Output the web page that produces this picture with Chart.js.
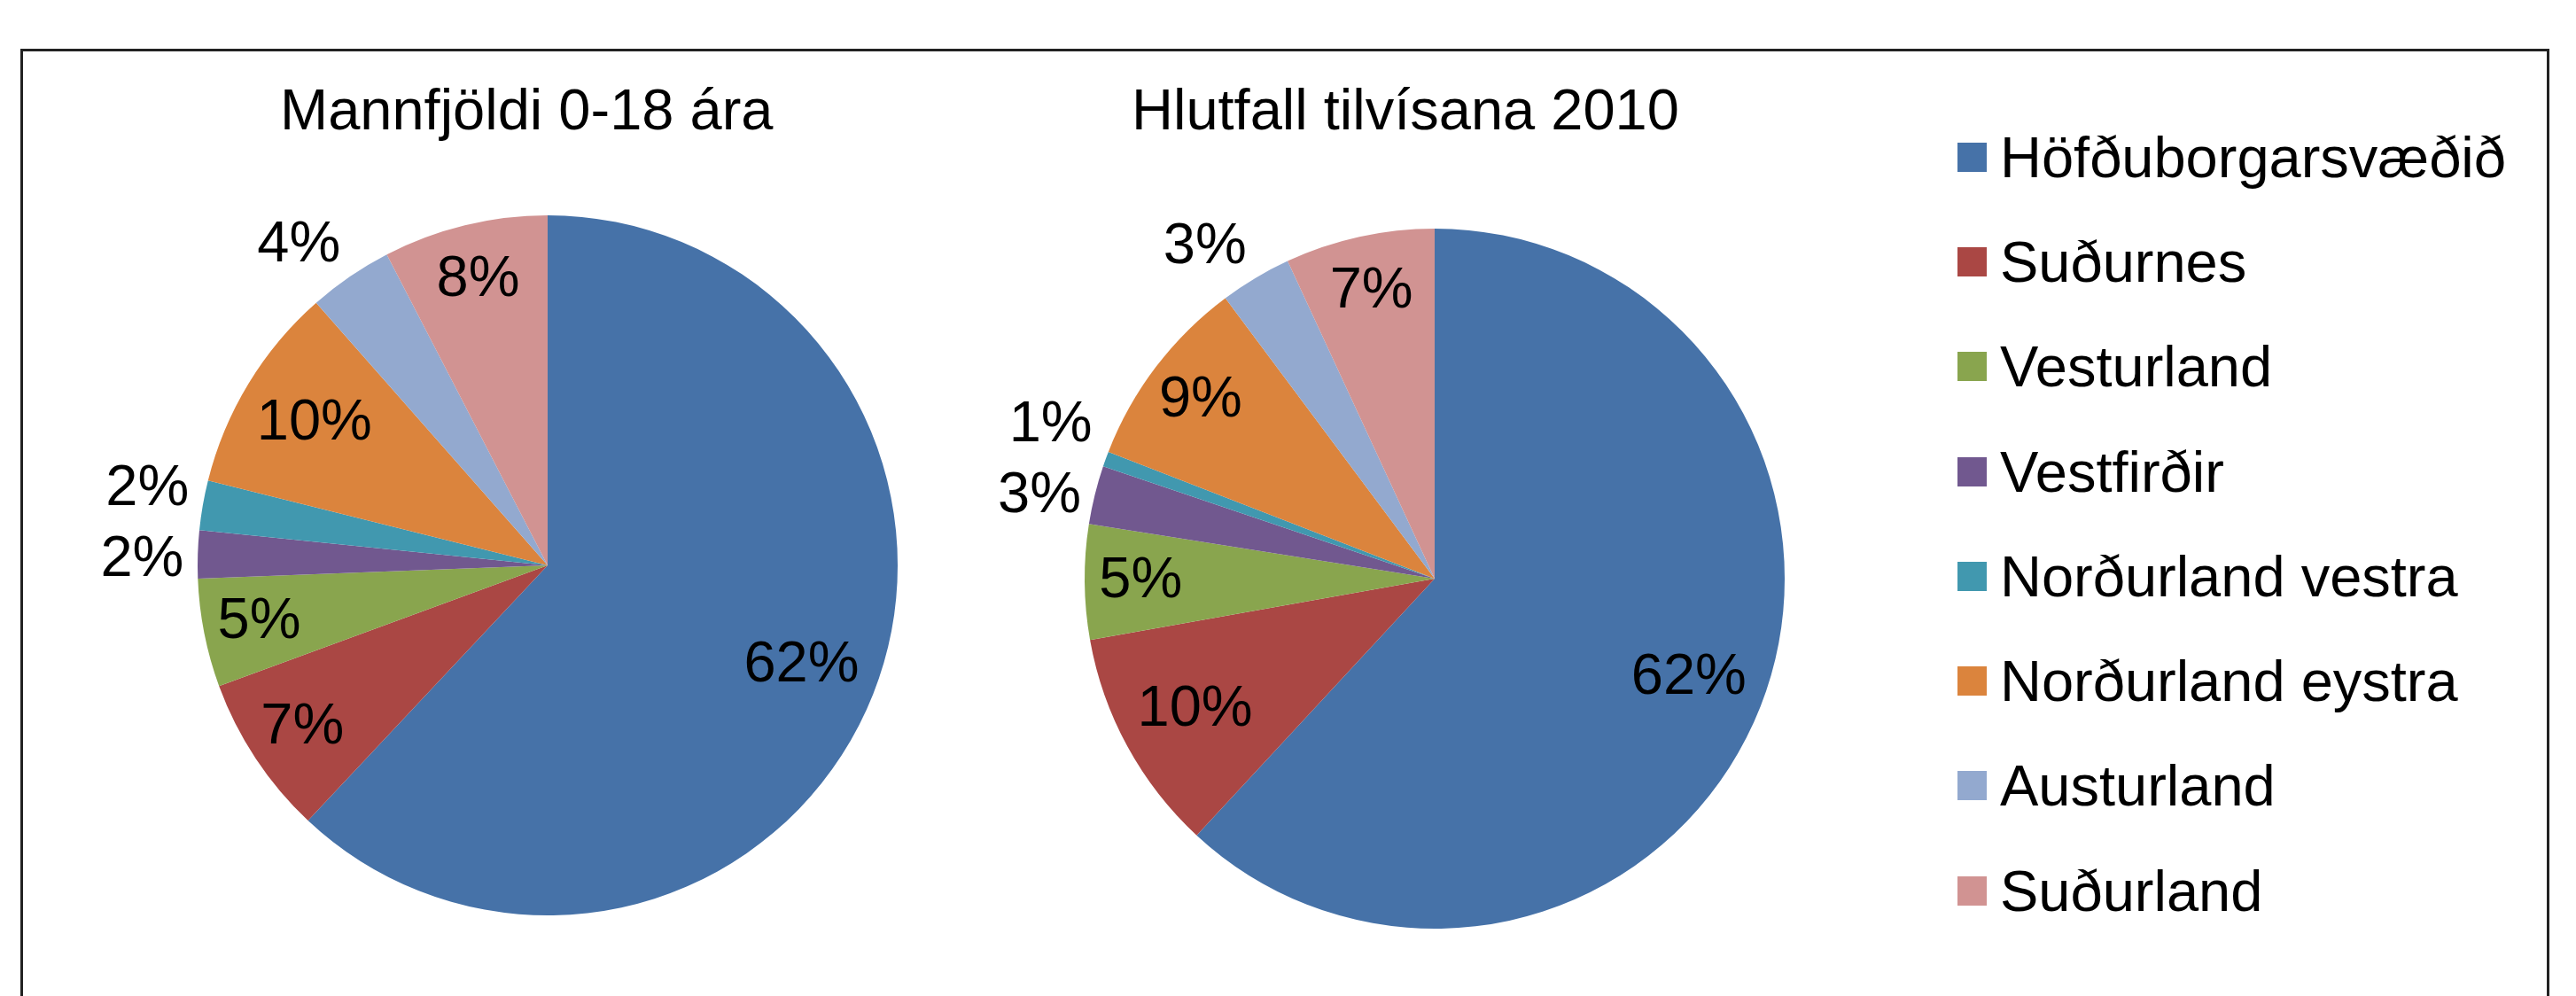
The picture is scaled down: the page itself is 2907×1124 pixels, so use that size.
<!DOCTYPE html>
<html>
<head>
<meta charset="utf-8">
<script src="https://cdn.jsdelivr.net/npm/chart.js@4.4.1/dist/chart.umd.min.js"></script>
<style>
  html, body { margin: 0; padding: 0; background: #fff; overflow: hidden; }
  #stage { position: relative; width: 2907px; height: 1124px; }
  #frame { position: absolute; left: 23px; top: 55px; width: 2854px; height: 1200px;
           border: 3px solid #222; box-sizing: border-box; }
  canvas { position: absolute; left: 0; top: 0; }
  #legend { position: absolute; left: 2209px; top: 118px; margin: 0; padding: 0; list-style: none;
            font-family: 'Liberation Sans', Arial, sans-serif; font-size: 65px; color: #000; }
  #legend li { display: flex; align-items: center; height: 118.3px; }
  #legend .swatch { width: 33px; height: 33px; margin-right: 15px; flex: none; }
  #legend .txt { line-height: 65px; white-space: nowrap; }
</style>
</head>
<body>
<div id="stage">
  <div id="frame"></div>
  <canvas id="pieA" width="2907" height="1124"></canvas>
  <canvas id="pieB" width="2907" height="1124"></canvas>
  <ul id="legend"></ul>
</div>
<script>
// Regions (legend order) and slice colours
const regions = ['Höfðuborgarsvæðið', 'Suðurnes', 'Vesturland', 'Vestfirðir',
                 'Norðurland vestra', 'Norðurland eystra', 'Austurland', 'Suðurland'];
const colors = ['#4672A8', '#AA4744', '#89A54E', '#71588F', '#4198AF', '#DB843D', '#93A9CF', '#D19392'];

// Share of population aged 0-18 (%)
const population = [62.0, 7.4, 5.0, 2.2, 2.3, 9.6, 3.9, 7.6];
// Share of referrals 2010 (%)
const referrals = [61.9, 10.3, 5.3, 2.7, 0.7, 8.9, 3.3, 6.9];

const titles = ['Mannfjöldi 0-18 ára', 'Hlutfall tilvísana 2010'];

Chart.defaults.font.family = "'Liberation Sans', Arial, sans-serif";
Chart.defaults.color = '#000';

const clamp1 = v => Math.max(-1, Math.min(1, v));

// percentage labels: inside the bigger slices, just outside the small ones
const sliceLabels = {
    id: 'sliceLabels',
    afterDatasetsDraw(chart, args, opts) {
        const ctx = chart.ctx;
        const meta = chart.getDatasetMeta(0);
        const values = chart.data.datasets[0].data;
        const total = values.reduce((a, b) => a + b, 0);

        ctx.save();
        ctx.font = opts.size + 'px ' + Chart.defaults.font.family;
        ctx.fillStyle = '#000';
        ctx.textAlign = 'center';
        ctx.textBaseline = 'middle';

        const placed = meta.data.map((arc, i) => {
            const p = arc.getProps(['x', 'y', 'startAngle', 'endAngle', 'outerRadius'], true);
            const mid = (p.startAngle + p.endAngle) / 2;
            const cos = Math.cos(mid), sin = Math.sin(mid);
            const share = values[i] / total * 100;
            const text = Math.round(share) + '%';
            if (share >= opts.insideMin) {
                const k = share >= 9 ? opts.insideWide : opts.inside;
                return {text, outside: false, x: p.x + cos * p.outerRadius * k, y: p.y + sin * p.outerRadius * k};
            }
            // outside: label box sits against the rim, corner toward the slice
            const hw = ctx.measureText(text).width / 2 + 4;
            const hh = opts.size * 0.38;
            const r = p.outerRadius * opts.outside;
            return {
                text, outside: true,
                x: p.x + cos * r + hw * clamp1(cos / 0.5),
                y: p.y + sin * r + hh * clamp1(sin / 0.5)
            };
        });

        // move neighbouring outside labels apart so they don't overlap
        for (let i = 1; i < placed.length; i++) {
            const a = placed[i - 1], b = placed[i];
            if (a.outside && b.outside && Math.abs(a.y - b.y) < opts.minGap &&
                Math.abs(a.x - b.x) < opts.size * 2) {
                const m = (a.y + b.y) / 2;
                const sign = a.y < b.y ? -1 : 1;
                a.y = m + sign * opts.minGap / 2;
                b.y = m - sign * opts.minGap / 2;
            }
        }

        placed.forEach(l => ctx.fillText(l.text, l.x, l.y));
        ctx.restore();
    }
};

// legend built as html from the chart's own legend items
const htmlLegend = {
    id: 'htmlLegend',
    afterUpdate(chart) {
        const list = document.getElementById('legend');
        list.innerHTML = '';
        const items = chart.options.plugins.legend.labels.generateLabels(chart);
        items.forEach(item => {
            const li = document.createElement('li');
            const box = document.createElement('span');
            box.className = 'swatch';
            box.style.background = item.fillStyle;
            const txt = document.createElement('span');
            txt.className = 'txt';
            txt.textContent = item.text;
            li.append(box, txt);
            list.appendChild(li);
        });
    }
};

function pieConfig(title, values, padding, titlePadding, extraPlugins) {
    return {
        type: 'pie',
        data: {
            labels: regions,
            datasets: [{
                data: values,
                backgroundColor: colors,
                borderWidth: 0,
                hoverOffset: 0,
                radius: 395
            }]
        },
        options: {
            responsive: false,
            animation: false,
            events: [],
            layout: { padding: padding },
            plugins: {
                legend: { display: false },
                tooltip: { enabled: false },
                title: {
                    display: true,
                    text: title,
                    align: 'start',
                    color: '#000',
                    font: { size: 65, weight: 'normal' },
                    padding: titlePadding
                },
                sliceLabels: { size: 65, inside: 0.84, insideWide: 0.78, outside: 1.03, insideMin: 4.5, minGap: 80 }
            }
        },
        plugins: [sliceLabels].concat(extraPlugins || [])
    };
}

new Chart(document.getElementById('pieA'),
    pieConfig(titles[0], population,
        { left: 316, right: 1987, top: 0, bottom: 15.5 },
        { top: 89.5, bottom: 0 }));

new Chart(document.getElementById('pieB'),
    pieConfig(titles[1], referrals,
        { left: 1277, right: 946, top: 0, bottom: 15.5 },
        { top: 89.5, bottom: 30 }, [htmlLegend]));
</script>
</body>
</html>
